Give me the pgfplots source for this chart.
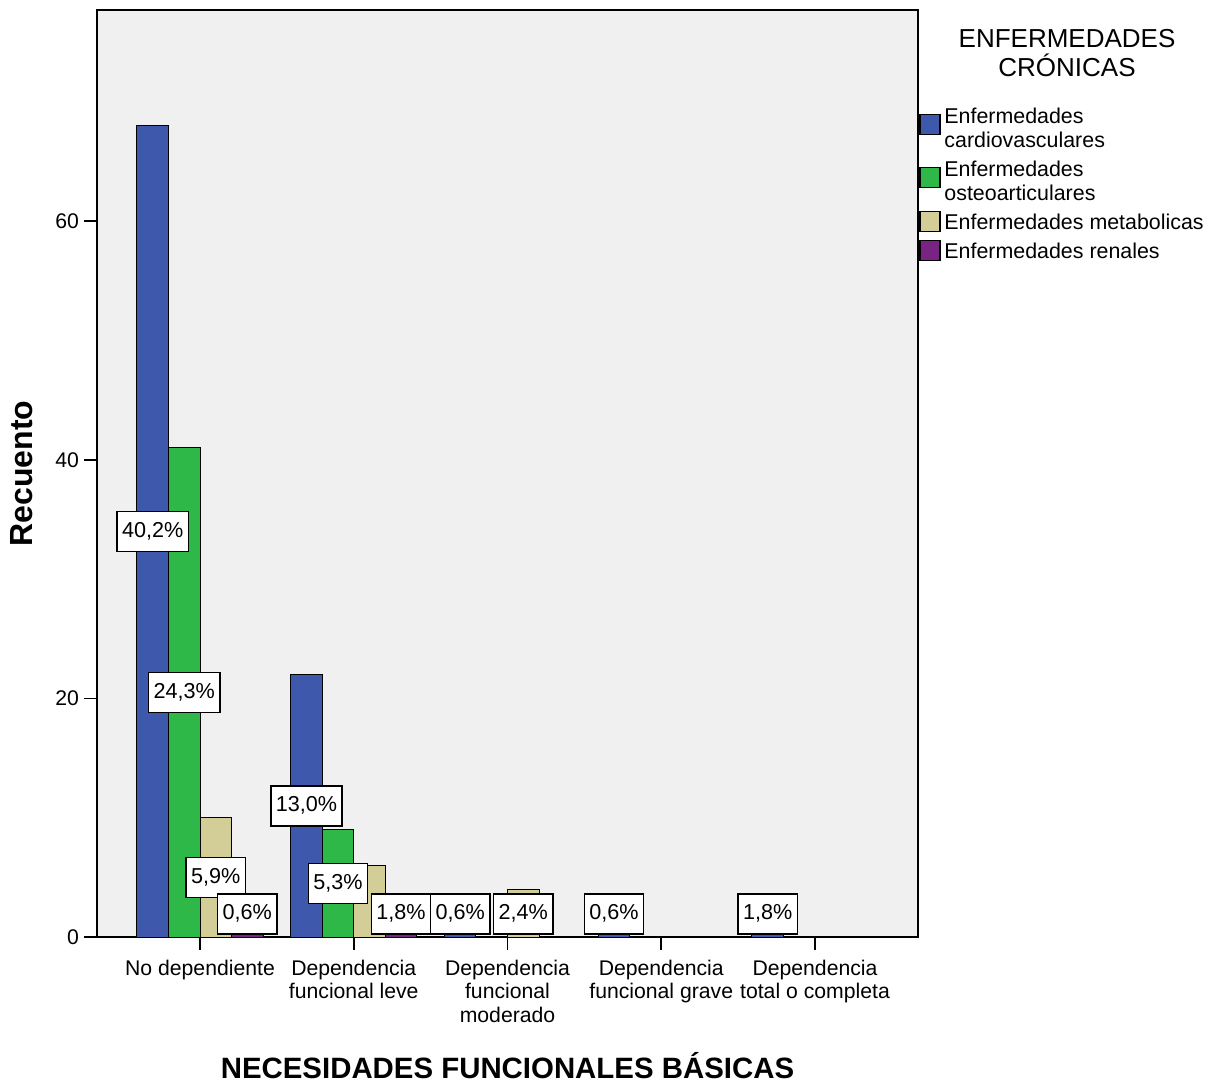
\documentclass[border=0pt]{standalone}
\usepackage{fontspec}
\setmainfont{Liberation Sans}
\usepackage{pgfplots}
\pgfplotsset{compat=1.18}
\definecolor{cblue}{RGB}{62,88,172}
\definecolor{cgreen}{RGB}{46,184,72}
\definecolor{ctan}{RGB}{211,206,151}
\definecolor{cpurple}{RGB}{121,36,133}
\definecolor{bg}{RGB}{240,240,240}
\pgfplotsset{
  swatch one/.style={legend image code/.code={\path (0pt,0pt) (10pt,0pt);
     \draw[overlay, fill=#1, draw=black, line width=0.6pt] (0pt,-0.8pt) rectangle (10pt,9.2pt);}},
  swatch two/.style={legend image code/.code={\path (0pt,0pt) (10pt,0pt);
     \draw[overlay, fill=#1, draw=black, line width=0.6pt] (0pt,-5.4pt) rectangle (10pt,4.6pt);}},
}
\begin{document}
\begin{tikzpicture}
\useasboundingbox (0,0) rectangle (609pt,543pt);
\begin{axis}[
  at={(48.5pt,74.5pt)}, anchor=south west,
  scale only axis, width=410.5pt, height=463.5pt,
  xmin=-0.67, xmax=4.67, ymin=0, ymax=77.7,
  axis background/.style={fill=bg},
  axis line style={line width=0.9pt, black},
  xtick={0,1,2,3,4},
  xticklabels={No dependiente, Dependencia\\funcional leve, Dependencia\\funcional\\moderado, Dependencia\\funcional grave, Dependencia\\total o completa},
  ytick={0,20,40,60},
  tick align=outside, xtick pos=bottom, ytick pos=left,
  major tick length=6.5pt,
  tick style={line width=0.8pt, black},
  xticklabel style={font=\fontsize{10.6}{11.75}\selectfont, align=center, yshift=-1.5pt},
  yticklabel style={font=\fontsize{10.6}{11.75}\selectfont, xshift=1pt},
  /pgf/number format/assume math mode=true,
  xlabel={NECESIDADES FUNCIONALES BÁSICAS},
  ylabel={Recuento},
  xlabel style={font=\fontsize{14.7}{16}\selectfont\bfseries, at={(axis description cs:0.5,-0.139)}, anchor=center},
  ylabel style={font=\fontsize{16}{17}\selectfont\bfseries, at={(axis description cs:-0.0914,0.5)}, anchor=center},
  legend style={at={(axis description cs:1,1)}, anchor=north west, xshift=0.5pt, yshift=-45.8pt,
    draw=none, fill=none, font=\fontsize{10.7}{12}\selectfont, row sep=0pt, inner sep=0pt,
    nodes={inner sep=0pt, anchor=base west, text height=8.4pt, text depth=3.6pt},
    /tikz/every odd column/.append style={column sep=2pt}},
  legend cell align=left,
]
\addplot[ybar, bar width=0.205, bar shift=-0.3075, fill=cblue, draw=black, line width=0.5pt, swatch two=cblue]
  coordinates {(0,68) (1,22) (2,1) (3,1) (4,3)};
\addlegendentry[text height=10.9pt]{Enfermedades}
\addlegendimage{empty legend}
\addlegendentry{cardiovasculares}
\addplot[ybar, bar width=0.205, bar shift=-0.1025, fill=cgreen, draw=black, line width=0.5pt, swatch two=cgreen]
  coordinates {(0,41) (1,9)};
\addlegendentry[text height=10.9pt]{Enfermedades}
\addlegendimage{empty legend}
\addlegendentry{osteoarticulares}
\addplot[ybar, bar width=0.205, bar shift=0.1025, fill=ctan, draw=black, line width=0.5pt, swatch one=ctan]
  coordinates {(0,10) (1,6) (2,4)};
\addlegendentry[text height=10.9pt]{Enfermedades metabolicas}
\addplot[ybar, bar width=0.205, bar shift=0.3075, fill=cpurple, draw=black, line width=0.5pt, swatch one=cpurple]
  coordinates {(0,1) (1,3)};
\addlegendentry[text height=10.9pt]{Enfermedades renales}
\addplot[forget plot, draw=none, mark=none, nodes near coords, point meta=explicit symbolic,
  every node near coord/.append style={anchor=center, fill=white, draw=black, line width=0.8pt,
    font=\fontsize{10.8}{12}\selectfont, inner xsep=2.5pt, inner ysep=0pt, minimum height=20pt,
    text height=7.6pt, text depth=1.6pt}]
  table[meta=lab] {
x y lab
-0.3075 34 40,2\%
-0.1025 20.5 24,3\%
0.1025 5 5,9\%
0.3075 1.95 0,6\%
0.6925 11 13,0\%
0.8975 4.5 5,3\%
1.3075 1.95 1,8\%
1.6925 1.95 0,6\%
2.1025 1.95 2,4\%
2.6925 1.95 0,6\%
3.6925 1.95 1,8\%
};
\end{axis}
\node[align=center, font=\fontsize{13}{14.5}\selectfont] at (533.5pt,516.25pt) {ENFERMEDADES\\CRÓNICAS};
\end{tikzpicture}
\end{document}
